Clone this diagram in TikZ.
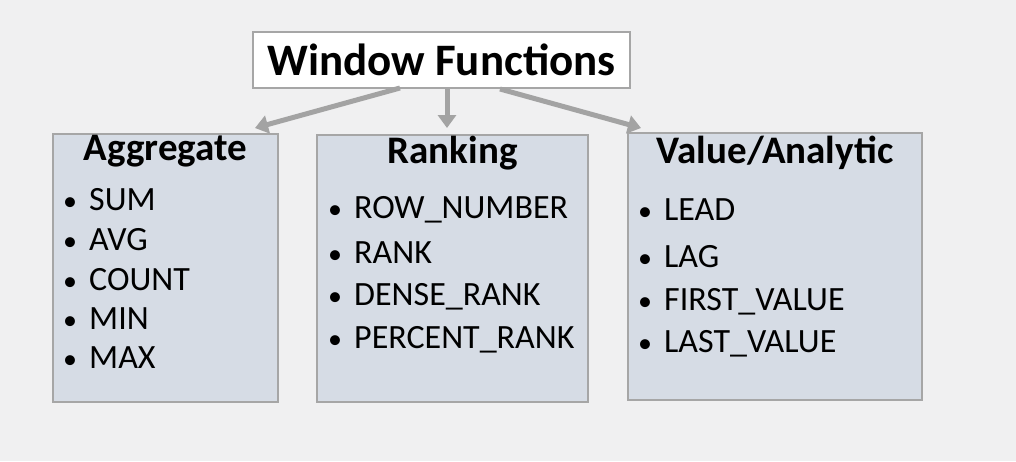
\documentclass[tikz,border=0pt]{standalone}
\usepackage{fontspec}
\setmainfont{Carlito}
\usetikzlibrary{arrows.meta}
\definecolor{bgc}{HTML}{F0F0F1}
\definecolor{boxfill}{HTML}{D6DCE5}
\definecolor{boxline}{HTML}{A6A6A6}
\definecolor{arrowc}{HTML}{A3A3A3}
\begin{document}
\begin{tikzpicture}[x=1pt,y=-1pt,
  catbox/.style={draw=boxline, line width=1.5pt, fill=boxfill},
  heading/.style={font=\fontsize{39}{39}\selectfont\bfseries, anchor=base, inner sep=0pt},
  item/.style={font=\fontsize{34}{34}\selectfont, anchor=base west, inner sep=0pt},
  conn/.style={draw=arrowc, line width=5pt, -{Triangle[length=13pt,width=18pt]}}
]
\useasboundingbox (0,0) rectangle (1016,461);
\fill[bgc] (0,0) rectangle (1016,461);
% title
\node[draw=boxline, line width=1.5pt, fill=white, minimum width=377pt, minimum height=56pt, inner sep=0pt,
  font=\fontsize{45}{45}\selectfont\bfseries] (title) at (441.5,60) {Window Functions};
% category boxes
\draw[catbox] (53,134) rectangle (278,402);
\draw[catbox] (317,135) rectangle (588,402);
\draw[catbox] (628,133) rectangle (922,400);
\coordinate (aggTop) at (255,128);
\coordinate (rankTop) at (447,128);
\coordinate (valTop) at (641,128);
\coordinate (s1) at (400,88);
\coordinate (s2) at (447,89);
\coordinate (s3) at (500,89);
\draw[conn] (s1) -- (aggTop);
\draw[conn] (s2) -- (rankTop);
\draw[conn] (s3) -- (valTop);
% headings
\node[heading] (hagg) at (165.5,160) {Aggregate};
\node[heading] (hrank) at (452.5,163) {Ranking};
\node[heading] (hval) at (775,163) {Value/Analytic};
% items
\newcommand{\bul}{\makebox[26pt][l]{\fontsize{28}{28}\selectfont •}}
\node[item] (a1) at (63,210) {\bul SUM};
\node[item] (a2) at (63,250) {\bul AVG};
\node[item] (a3) at (63,290) {\bul COUNT};
\node[item] (a4) at (63,329) {\bul MIN};
\node[item] (a5) at (63,368) {\bul MAX};
\node[item] (r1) at (328,218) {\bul ROW\_NUMBER};
\node[item] (r2) at (328,263) {\bul RANK};
\node[item] (r3) at (328,305) {\bul DENSE\_RANK};
\node[item] (r4) at (328,348) {\bul PERCENT\_RANK};
\node[item] (v1) at (638,220) {\bul LEAD};
\node[item] (v2) at (638,267) {\bul LAG};
\node[item] (v3) at (638,310) {\bul FIRST\_VALUE};
\node[item] (v4) at (638,352) {\bul LAST\_VALUE};
\end{tikzpicture}
\end{document}
